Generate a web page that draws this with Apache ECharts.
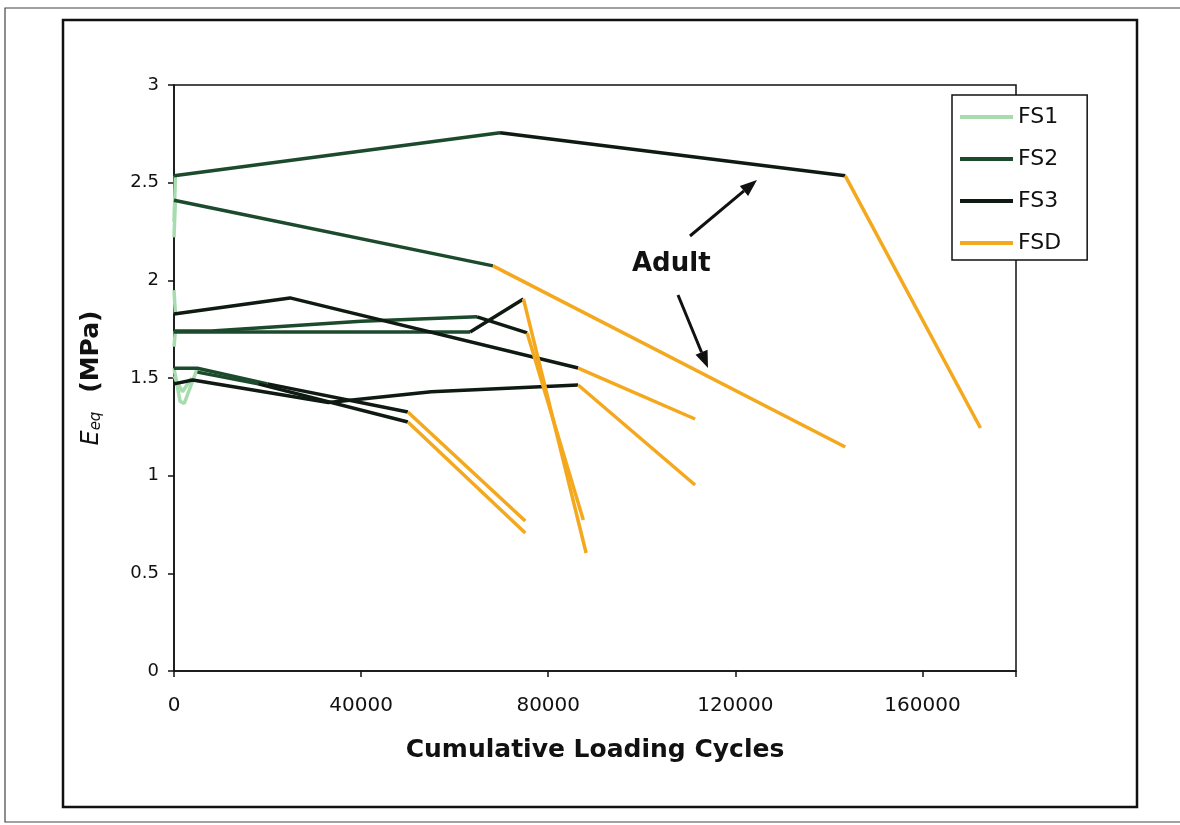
<!DOCTYPE html>
<html>
<head>
<meta charset="utf-8">
<title>Eeq vs Cumulative Loading Cycles</title>
<script src="https://cdn.jsdelivr.net/npm/echarts@6/dist/echarts.min.js"></script>
<style>
  html, body { margin: 0; padding: 0; background: #ffffff; }
  #chart { width: 1180px; height: 825px; }
</style>
</head>
<body>
<div id="chart"></div>
<script>
// Stage names shown in the legend
const stageNames = ['FS1', 'FS2', 'FS3', 'FSD'];

// Axis ranges (cycles, MPa)
const xAxisMax = 180000;
const xTickStep = 40000;
const yAxisMax = 3;
const yTickStep = 0.5;

// Each stage: list of specimen paths, points as [cycles, Eeq in MPa]
const fs1Paths = [
  [[0, 2.30], [300, 2.535]],
  [[0, 2.22], [300, 2.41]],
  [[0, 1.95], [300, 1.83]],
  [[0, 1.66], [300, 1.74]],
  [[0, 1.55], [1300, 1.38], [2200, 1.37], [5000, 1.55]],
  [[0, 1.51], [1800, 1.43], [3800, 1.50]]
];

const fs2Paths = [
  [[0, 2.535], [69700, 2.755]],
  [[0, 2.41], [68200, 2.074]],
  [[0, 1.741], [8000, 1.741], [40000, 1.79], [64800, 1.813]],
  [[0, 1.736], [63300, 1.736]],
  [[0, 1.55], [5000, 1.55], [20000, 1.47]],
  [[5000, 1.53], [18000, 1.47]]
];

const fs3Paths = [
  [[69700, 2.755], [143500, 2.535]],
  [[0, 1.828], [24800, 1.91], [86400, 1.551]],
  [[64800, 1.813], [75500, 1.731]],
  [[63300, 1.736], [74700, 1.905]],
  [[20000, 1.47], [50000, 1.326]],
  [[18000, 1.47], [50000, 1.275]],
  [[0, 1.47], [4000, 1.49], [33000, 1.375], [55000, 1.43], [86400, 1.464]]
];

const fsdPaths = [
  [[143500, 2.535], [172400, 1.244]],
  [[68200, 2.074], [143500, 1.147]],
  [[86400, 1.551], [111400, 1.290]],
  [[74700, 1.905], [88100, 0.604]],
  [[75500, 1.731], [87500, 0.773]],
  [[50000, 1.326], [75100, 0.768]],
  [[50000, 1.275], [75100, 0.707]],
  [[86400, 1.464], [111400, 0.952]]
];

const stageColors = ['#a6dcae', '#1c4a2c', '#0f1a12', '#f4a81d'];
const stagePaths = [fs1Paths, fs2Paths, fs3Paths, fsdPaths];

// One line series per path; series of a stage share a name so the legend groups them
const series = [];
stagePaths.forEach(function (paths, i) {
  paths.forEach(function (pts) {
    series.push({
      name: stageNames[i],
      type: 'line',
      data: pts,
      showSymbol: false,
      symbol: 'none',
      animation: false,
      z: 2 + i,
      lineStyle: { color: stageColors[i], width: 3.5 },
      itemStyle: { color: stageColors[i] },
      emphasis: { disabled: true }
    });
  });
});

// Arrow (line + filled head) from (x1,y1) to (x2,y2), in pixels
function arrow(x1, y1, x2, y2) {
  const dx = x2 - x1, dy = y2 - y1;
  const len = Math.sqrt(dx * dx + dy * dy);
  const ux = dx / len, uy = dy / len;
  const hl = 17, hw = 6.5;
  const bx = x2 - ux * hl, by = y2 - uy * hl;
  return [
    { type: 'line', shape: { x1: x1, y1: y1, x2: bx, y2: by },
      style: { stroke: '#111', lineWidth: 3 }, z: 20 },
    { type: 'polygon',
      shape: { points: [[x2, y2], [bx - uy * hw, by + ux * hw], [bx + uy * hw, by - ux * hw]] },
      style: { fill: '#111' }, z: 20 }
  ];
}

const chart = echarts.init(document.getElementById('chart'), null, { renderer: 'canvas' });

chart.setOption({
  backgroundColor: '#ffffff',
  animation: false,
  textStyle: { fontFamily: 'DejaVu Sans' },
  grid: {
    left: 174, top: 85, right: 164, bottom: 154,
    show: true, borderColor: '#111', borderWidth: 1.5, backgroundColor: 'transparent'
  },
  legend: {
    data: stageNames,
    orient: 'vertical',
    left: 952, top: 95,
    padding: [11, 26, 6, 8],
    itemGap: 20,
    itemWidth: 53, itemHeight: 4,
    icon: 'rect',
    borderColor: '#111', borderWidth: 1.5,
    backgroundColor: '#ffffff',
    textStyle: { fontFamily: 'DejaVu Sans', fontSize: 22, color: '#111' },
    selectedMode: false
  },
  xAxis: {
    type: 'value',
    min: 0, max: xAxisMax, interval: xTickStep,
    name: 'Cumulative Loading Cycles',
    nameLocation: 'middle',
    nameGap: 67,
    nameTextStyle: { fontFamily: 'DejaVu Sans', fontWeight: 'bold', fontSize: 25, color: '#111' },
    axisLine: { show: true, onZero: false, lineStyle: { color: '#111', width: 1.5 } },
    axisTick: { show: true, inside: false, length: 6, lineStyle: { color: '#111', width: 1.5 } },
    splitLine: { show: false },
    axisLabel: {
      margin: 25, fontSize: 20, color: '#111', fontFamily: 'DejaVu Sans',
      formatter: function (v) { return v === xAxisMax ? '' : String(v); }
    }
  },
  yAxis: {
    type: 'value',
    min: 0, max: yAxisMax, interval: yTickStep,
    name: '{e|E}{s|eq}{g|  }{b|(MPa)}',
    nameLocation: 'middle',
    nameRotate: 90,
    nameGap: 70,
    nameTextStyle: {
      color: '#111',
      rich: {
        e: { fontFamily: 'DejaVu Sans', fontStyle: 'italic', fontSize: 24, color: '#111' },
        s: { fontFamily: 'DejaVu Sans', fontStyle: 'italic', fontSize: 15, color: '#111', padding: [10, 0, 0, 0] },
        g: { fontSize: 14, padding: [0, 5, 0, 5] },
        b: { fontFamily: 'DejaVu Sans', fontWeight: 'bold', fontSize: 25, color: '#111' }
      }
    },
    axisLine: { show: true, onZero: false, lineStyle: { color: '#111', width: 1.5 } },
    axisTick: { show: true, inside: false, length: 6, lineStyle: { color: '#111', width: 1.5 } },
    splitLine: { show: false },
    axisLabel: { margin: 15, fontSize: 18, color: '#111', fontFamily: 'DejaVu Sans' }
  },
  graphic: [
    // outer page frame
    { type: 'rect', shape: { x: 5, y: 8, width: 1200, height: 814 },
      style: { fill: 'none', stroke: '#444', lineWidth: 1.2 }, silent: true, z: -10 },
    // chart area frame
    { type: 'rect', shape: { x: 63, y: 20, width: 1074, height: 787 },
      style: { fill: 'none', stroke: '#111', lineWidth: 2.5 }, silent: true, z: -9 },
    { type: 'text', left: 632, top: 251, z: 20,
      style: { text: 'Adult', fontFamily: 'DejaVu Sans', fontWeight: 'bold', fontSize: 26, fill: '#111' } }
  ].concat(arrow(690, 236, 757, 180)).concat(arrow(678, 295, 708, 368)),
  series: series
});
</script>
</body>
</html>
